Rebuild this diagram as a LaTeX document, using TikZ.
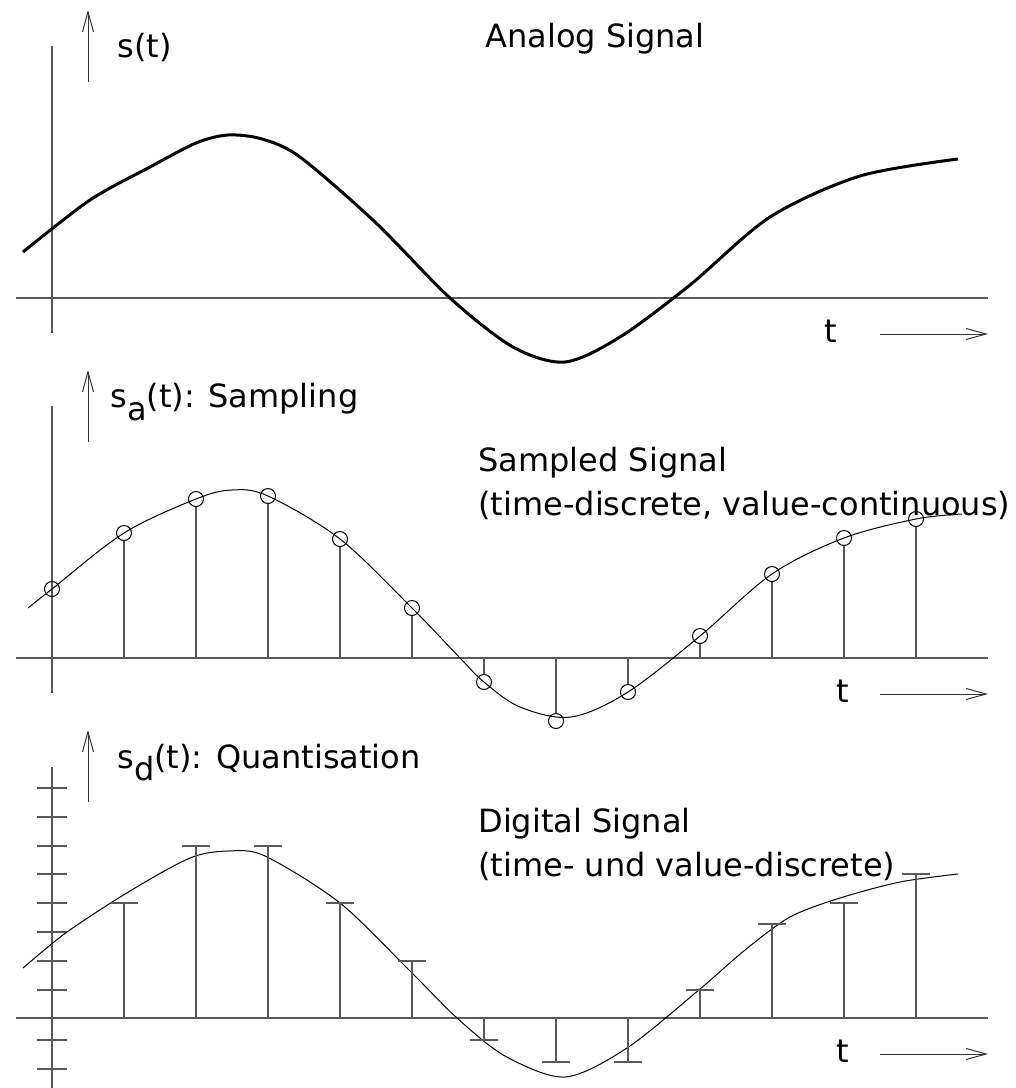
\documentclass[tikz,border=0pt]{standalone}
\usepackage{fontspec}
\setmainfont{DejaVu Sans}
\usetikzlibrary{arrows.meta}
\begin{document}
\begin{tikzpicture}[x=0.5pt,y=-0.5pt,
  axis/.style={draw=black!65, line width=0.6pt},
  sigthin/.style={draw=black, line width=0.5pt},
  sigthick/.style={draw=black, line width=1.5pt},
  lbl/.style={anchor=base west, inner sep=0pt, font=\fontsize{16}{19}\selectfont},
  arr/.style={-{Straight Barb[length=10pt,width=5.5pt]}, line width=0.5pt, draw=black!80},
  samp/.style={circle, draw=black, line width=0.5pt, minimum size=7.5pt, inner sep=0pt},
]
\useasboundingbox (0,0) rectangle (1016,1088);

% ---------------- Panel 1: analog signal ----------------
\coordinate (v1t) at (52,46);   \coordinate (v1b) at (52,333);
\coordinate (h1l) at (16,298);  \coordinate (h1r) at (988,298);
\coordinate (a1b) at (88,82);   \coordinate (a1t) at (88,10);
\coordinate (r1a) at (880,334); \coordinate (r1b) at (988,334);
\draw[axis] (v1t) -- (v1b);
\draw[axis] (h1l) -- (h1r);
\draw[arr] (a1b) -- (a1t);
\draw[arr] (r1a) -- (r1b);
\node[lbl] (s1) at (117,57.5) {s(t)};
\node[lbl] (title1) at (485,47) {Analog Signal};
\node[lbl] (t1) at (824,342) {t};
\draw[sigthick] plot[smooth, tension=0.5] coordinates {
  (23,252) (90,200) (150,167) (196,143) (228,135) (262,139) (300,157)
  (375,222) (450,298) (513,347) (565,362) (620,337) (690,285) (770,217)
  (860,176) (958,159)};

% ---------------- Panel 2: sampled signal ----------------
\coordinate (v2t) at (52,406);  \coordinate (v2b) at (52,693);
\coordinate (h2l) at (16,658);  \coordinate (h2r) at (988,658);
\coordinate (a2b) at (88,442);  \coordinate (a2t) at (88,370);
\coordinate (r2a) at (880,694); \coordinate (r2b) at (988,694);
\draw[axis] (v2t) -- (v2b);
\draw[axis] (h2l) -- (h2r);
\draw[arr] (a2b) -- (a2t);
\draw[arr] (r2a) -- (r2b);
\node[lbl] (s2) at (110,407) {s\raisebox{-6.5pt}{a}(t): Sampling};
\node[lbl] (title2a) at (478,471) {Sampled Signal};
\node[lbl] (title2b) at (478,515) {(time-discrete, value-continuous)};
\node[lbl] (t2) at (836,702) {t};
\draw[sigthin] plot[smooth, tension=0.55] coordinates {
  (28,608) (52,589) (124,533) (196,499) (232,490) (268,496) (340,539)
  (412,608) (460,658) (484,682) (520,707) (571,717) (628,692) (700,636)
  (772,574) (844,538) (916,519) (962,514)};
\foreach \x/\y [count=\i] in {52/589,124/533,196/499,268/496,340/539,412/608,
    484/682,556/721,628/692,700/636,772/574,844/538,916/519} {
  \node[samp] (c\i) at (\x,\y) {};
  \coordinate (b\i) at (\x,658);
  \ifnum\i>1 \draw[axis] (b\i) -- (c\i); \fi
}

% ---------------- Panel 3: digital signal ----------------
\coordinate (v3t) at (52,767);  \coordinate (v3b) at (52,1088);
\coordinate (h3l) at (16,1018); \coordinate (h3r) at (988,1018);
\coordinate (a3b) at (88,802);  \coordinate (a3t) at (88,730);
\coordinate (r3a) at (880,1054); \coordinate (r3b) at (988,1054);
\draw[axis] (v3t) -- (v3b);
\draw[axis] (h3l) -- (h3r);
\draw[arr] (a3b) -- (a3t);
\draw[arr] (r3a) -- (r3b);
\foreach \y in {788,817,846,874,903,932,961,990,1040,1069}
  \draw[axis] (37,\y) -- (67,\y);
\node[lbl] (s3) at (117,768) {s\raisebox{-6pt}{d}(t): Quantisation};
\node[lbl] (title3a) at (478,832) {Digital Signal};
\node[lbl] (title3b) at (478,876) {(time- und value-discrete)};
\node[lbl] (t3) at (836,1062) {t};
\draw[sigthin] plot[smooth, tension=0.5] coordinates {
  (23,968) (67,932) (130,891) (190,858) (228,851) (265,856) (340,903)
  (412,973) (457,1018) (505,1056) (565,1077) (627,1048) (700,989)
  (745,950) (790,917) (840,898) (900,882) (958,874)};
\foreach \x/\y [count=\i] in {124/903,196/846,268/846,340/903,412/961,484/1040,
    556/1062,628/1062,700/990,772/924,844/903,916/874} {
  \coordinate (q\i) at (\x,\y);
  \coordinate (p\i) at (\x,1018);
  \draw[axis] (p\i) -- (q\i);
  \draw[axis] ([xshift=-7pt]q\i) -- ([xshift=7pt]q\i);
}
\end{tikzpicture}
\end{document}
